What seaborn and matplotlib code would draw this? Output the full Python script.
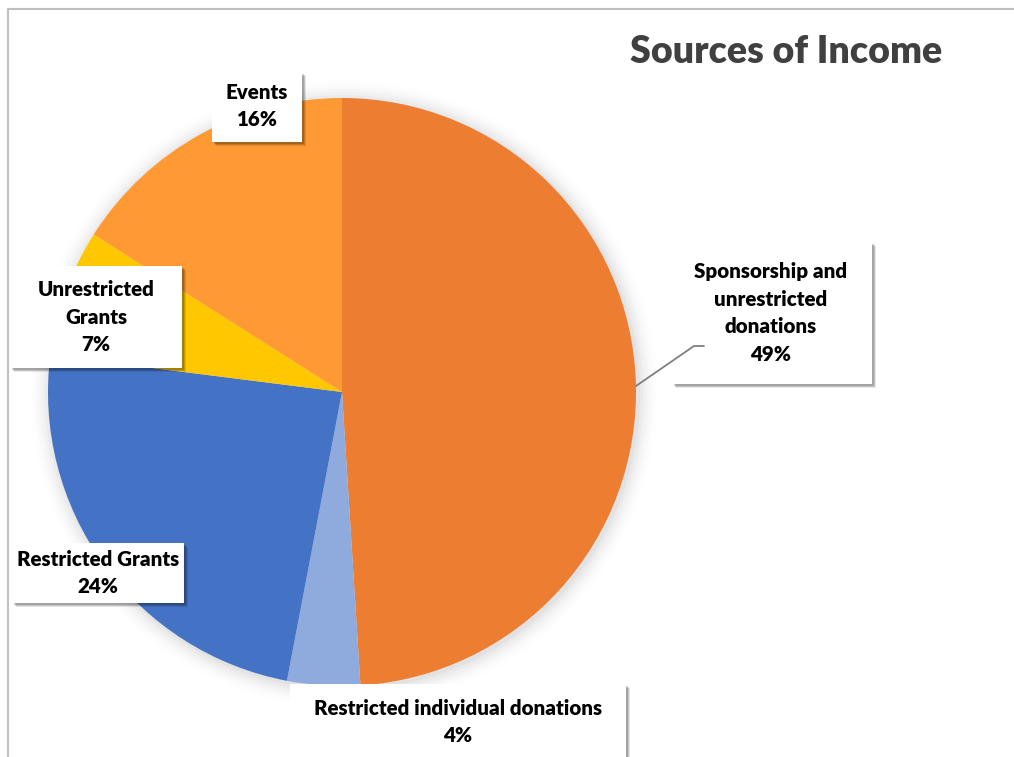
import matplotlib
matplotlib.use("Agg")
import matplotlib.pyplot as plt
import matplotlib.patheffects as pe
from matplotlib.patches import Rectangle, Circle
import seaborn as sns

# Income breakdown (percent of total), clockwise from 12 o'clock
categories = [
    "Sponsorship and\nunrestricted\ndonations",
    "Restricted individual donations",
    "Restricted Grants",
    "Unrestricted\nGrants",
    "Events",
]
shares = [49, 4, 24, 7, 16]
colors = ["#ED7D31", "#8FAADC", "#4472C4", "#FFC700", "#FF9933"]
title = "Sources of Income"

sns.set_theme(style="white")
plt.rcParams["font.family"] = ["Lato", "DejaVu Sans"]

W, H = 1014, 757
fig = plt.figure(figsize=(W / 100, H / 100), dpi=100)
ax = fig.add_axes([0, 0, 1, 1])


def Y(py):
    # convert a top-down pixel row into axes units
    return H - py


cx, cy, r = 342, Y(392), 294

# soft halo behind the pie
for i, a in enumerate([0.03, 0.025, 0.02, 0.016, 0.012, 0.008, 0.005]):
    ax.add_patch(Circle((cx + 2, cy - 2), r + 2 + i * 3, color="black", alpha=a,
                        lw=0, zorder=1))

wedges, _ = ax.pie(shares, colors=colors, startangle=90, counterclock=False,
                   center=(cx, cy), radius=r, frame=True,
                   wedgeprops=dict(linewidth=0, zorder=2))
ax.set_xlim(0, W)
ax.set_ylim(0, H)
ax.axis("off")

# chart frame
ax.plot([8, 8, W], [0, Y(9), Y(9)], color="#BFBFBF", lw=1.5, zorder=0)

# label boxes: (left, top, right, bottom) in pixel cols/rows, then text centre
boxes = [
    (672, 242, 872, 384, 771, 313),
    (290, 684, 626, 770, 458, 722),
    (12, 543, 184, 603, 98, 573),
    (10, 266, 182, 368, 96, 317),
    (212, 72, 302, 142, 257, 106),
]

shadow = [
    pe.SimplePatchShadow(offset=(3.2, -3.2), shadow_rgbFace="#000000", alpha=0.10),
    pe.SimplePatchShadow(offset=(2.4, -2.4), shadow_rgbFace="#000000", alpha=0.14),
    pe.SimplePatchShadow(offset=(1.5, -1.5), shadow_rgbFace="#000000", alpha=0.16),
    pe.Normal(),
]

for cat, val, (x0, y0, x1, y1, tx, ty) in zip(categories, shares, boxes):
    rect = Rectangle((x0, Y(y1)), x1 - x0, y1 - y0, facecolor="white",
                     edgecolor="none", zorder=5)
    rect.set_path_effects(shadow)
    ax.add_patch(rect)
    ax.text(tx, Y(ty), f"{cat}\n{val}%", ha="center", va="center",
            fontsize=14.8, fontweight="heavy", color="#000000",
            linespacing=1.55, zorder=6)

# leader line for the large slice
ax.plot([636, 694, 704], [Y(386), Y(346), Y(346)], color="#7F7F7F", lw=1.3, zorder=7)

ax.text(786, Y(52), title, ha="center", va="center", fontsize=27,
        fontweight="heavy", color="#404040", zorder=6)

fig.savefig("out.png", dpi=100)
